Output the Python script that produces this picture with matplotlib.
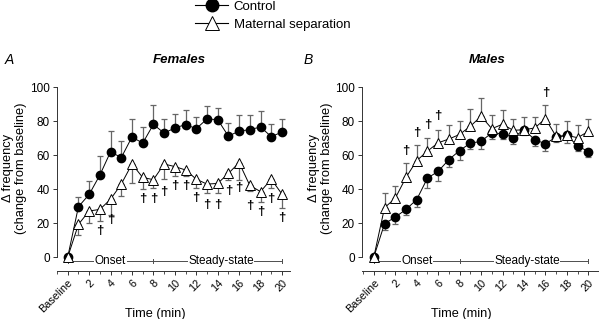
import matplotlib
matplotlib.use("Agg")
import matplotlib.pyplot as plt
from matplotlib.lines import Line2D
import numpy as np

plt.rcParams['font.family'] = ['Liberation Sans', 'DejaVu Sans']

time = list(range(0, 21))
tick_pos = [0, 2, 4, 6, 8, 10, 12, 14, 16, 18, 20]
tick_labels = ['Baseline', '2', '4', '6', '8', '10', '12', '14', '16', '18', '20']

# Females
f_ctrl = [0, 29.6, 36.8, 48.2, 61.9, 58.5, 70.6, 67.0, 78.0, 72.9, 75.9, 77.9, 75.5, 81.2, 80.8, 71.1, 74.1, 74.9, 76.5, 70.8, 73.5]
f_ctrl_err = [0, 5.6, 8.1, 11.3, 12.2, 9.7, 10.6, 9.7, 11.5, 8.5, 8.5, 8.3, 7.1, 7.9, 7.1, 7.6, 9.7, 8.9, 9.1, 7.7, 7.7]
f_ms = [0, 19.2, 27.1, 28.0, 34.0, 42.9, 54.7, 46.8, 45.5, 54.7, 53.2, 51.2, 45.8, 42.9, 43.3, 49.2, 55.5, 42.1, 38.5, 45.8, 37.0]
f_ms_err = [0, 6.4, 7.0, 7.0, 9.0, 7.0, 11.0, 7.0, 5.0, 9.0, 5.5, 3.5, 5.0, 5.0, 5.5, 4.0, 10.0, 3.5, 6.0, 5.0, 8.0]
f_dag_t = [3, 4, 7, 8, 9, 10, 11, 12, 13, 14, 15, 16, 17, 18, 19, 20]
f_dag_y = [15.5, 21.5, 34.4, 34.4, 38.0, 41.9, 41.9, 35.0, 30.6, 30.6, 39.0, 40.5, 30.0, 26.7, 34.0, 23.1]

# Males
m_ctrl = [0, 19.6, 23.5, 28.0, 33.8, 46.4, 50.4, 57.3, 62.6, 67.0, 68.0, 73.1, 72.5, 70.2, 74.9, 69.0, 66.6, 70.6, 71.5, 65.4, 62.0]
m_ctrl_err = [0, 3.4, 4.3, 3.3, 4.4, 6.0, 5.5, 4.5, 5.5, 3.4, 4.4, 3.5, 3.3, 4.0, 3.4, 3.8, 4.3, 3.0, 4.5, 3.0, 3.3]
m_ms = [0, 29.0, 34.6, 46.8, 56.7, 62.3, 67.2, 69.4, 72.1, 76.9, 82.8, 75.5, 78.1, 74.5, 74.9, 75.9, 81.4, 70.9, 71.5, 70.2, 73.9]
m_ms_err = [0, 8.4, 7.1, 8.5, 8.9, 7.9, 7.7, 8.5, 7.9, 9.9, 10.5, 8.3, 8.3, 6.9, 7.5, 6.5, 8.3, 7.2, 8.3, 7.3, 7.5]
m_dag_t = [3, 4, 5, 6, 16]
m_dag_y = [62.6, 73.1, 77.9, 82.8, 96.6]

W, H = 600, 319
fig = plt.figure(figsize=(6, 3.19), dpi=100)

def px_axes(l, r, t, b):
    return fig.add_axes([l / W, 1 - b / H, (r - l) / W, (b - t) / H])

def draw_panel(ax, ctrl, ctrl_err, ms, ms_err, ctrl_down, dag_t, dag_y, xlim, ylab_x):
    ax.set_xlim(*xlim)
    ax.set_ylim(-8.2, 100)
    ec = '0.4'
    if ctrl_down:
        c_yerr = [ctrl_err, [0] * len(ctrl_err)]
        m_yerr = [[0] * len(ms_err), ms_err]
    else:
        c_yerr = [[0] * len(ctrl_err), ctrl_err]
        m_yerr = [ms_err, [0] * len(ms_err)]
    ax.errorbar(time, ctrl, yerr=c_yerr, fmt='none', ecolor=ec, elinewidth=0.9,
                capsize=2.3, capthick=0.9, zorder=2, clip_on=False)
    ax.errorbar(time, ms, yerr=m_yerr, fmt='none', ecolor=ec, elinewidth=0.9,
                capsize=2.3, capthick=0.9, zorder=2, clip_on=False)
    ax.plot(time, ctrl, '-', color='black', lw=0.7, marker='o', markersize=6,
            markerfacecolor='black', markeredgecolor='black', zorder=4, clip_on=False)
    ax.plot(time, ms, '-', color='black', lw=0.7, marker='^', markersize=7.5,
            markerfacecolor='white', markeredgecolor='black', markeredgewidth=0.7,
            zorder=5, clip_on=False)
    for t, y in zip(dag_t, dag_y):
        ax.text(t, y, '\u2020', ha='center', va='center', fontsize=9.5, color='black',
                fontweight='bold')
    # Onset / Steady-state bracket
    yb = -2.4
    ax.plot([0, 20], [yb, yb], color='0.3', lw=0.7, zorder=1)
    for xv in [0, 8, 20]:
        ax.plot([xv, xv], [yb - 1.0, yb + 1.0], color='0.3', lw=0.7, zorder=1)
    ax.text(4, yb, 'Onset', ha='center', va='center', fontsize=8.5,
            bbox=dict(facecolor='white', edgecolor='none', pad=0.3), zorder=3)
    ax.text(14.3, yb, 'Steady-state', ha='center', va='center', fontsize=8.5,
            bbox=dict(facecolor='white', edgecolor='none', pad=0.3), zorder=3)

    for s in ['top', 'right']:
        ax.spines[s].set_visible(False)
    ax.spines['left'].set_bounds(0, 100)
    for s in ['left', 'bottom']:
        ax.spines[s].set_linewidth(0.7)
        ax.spines[s].set_color('0.2')
    ax.set_yticks([0, 20, 40, 60, 80, 100])
    ax.set_xticks(tick_pos)
    ax.set_xticklabels(tick_labels, rotation=45, ha='right', rotation_mode='anchor')
    ax.set_xticks(np.arange(-1, 21, 1), minor=True)
    ax.tick_params(axis='both', labelsize=7.8, width=0.7, length=3, color='0.2', pad=2)
    ax.tick_params(axis='y', labelsize=8.5)
    ax.tick_params(axis='x', which='minor', length=2, width=0.6, color='0.2')
    ax.set_xlabel('Time (min)', fontsize=9.2)
    ax.xaxis.set_label_coords(0.42, -0.2)
    ax.set_ylabel('\u0394 frequency\n(change from baseline)', fontsize=9.3,
                  linespacing=1.1)
    ax.yaxis.set_label_coords(ylab_x, 0.56)

axA = px_axes(57, 290, 87, 271)
draw_panel(axA, f_ctrl, f_ctrl_err, f_ms, f_ms_err, False, f_dag_t, f_dag_y,
           (-0.96, 20.75), -0.129)
axB = px_axes(362, 598, 87, 271)
draw_panel(axB, m_ctrl, m_ctrl_err, m_ms, m_ms_err, True, m_dag_t, m_dag_y,
           (-1.1, 20.9), -0.123)

fig.text(179 / W, 1 - 60 / H, 'Females', ha='center', va='center', fontsize=9.5,
         fontweight='bold', style='italic')
fig.text(487 / W, 1 - 60 / H, 'Males', ha='center', va='center', fontsize=9.5,
         fontweight='bold', style='italic')
fig.text(9 / W, 1 - 60 / H, 'A', ha='center', va='center', fontsize=10, style='italic')
fig.text(308 / W, 1 - 60 / H, 'B', ha='center', va='center', fontsize=10, style='italic')

handles = [
    Line2D([], [], color='black', lw=0.8, marker='o', markersize=9,
           markerfacecolor='black', markeredgecolor='black'),
    Line2D([], [], color='black', lw=0.8, marker='^', markersize=9.5,
           markerfacecolor='white', markeredgecolor='black', markeredgewidth=0.7),
]
fig.legend(handles, ['Control', 'Maternal separation'], loc='upper left',
           bbox_to_anchor=(194 / W, 1.0 + 1 / H), frameon=False, fontsize=9.5,
           handlelength=2.5, handletextpad=0.4, labelspacing=0.45, borderaxespad=0,
           borderpad=0.1)

fig.savefig('out.png', dpi=100)
